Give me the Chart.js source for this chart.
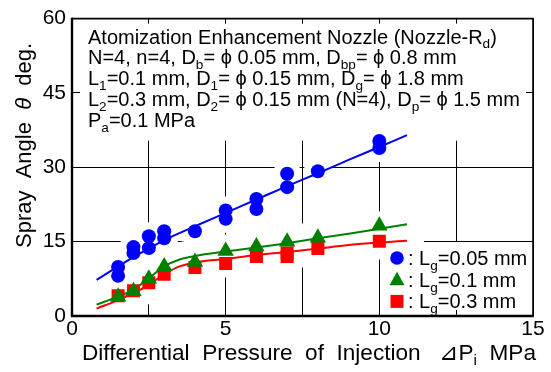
<!DOCTYPE html>
<html>
<head>
<meta charset="utf-8">
<script src="https://cdn.jsdelivr.net/npm/chart.js@4.4.1/dist/chart.umd.min.js"></script>
<style>
  html, body { margin: 0; padding: 0; background: #fff; }
</style>
</head>
<body>
<canvas id="chart" width="551" height="372"></canvas>
<script>
// ---- measured data (pressure in MPa, spray angle in deg.) ----
const pressureBlue = [1.5, 1.5, 2, 2, 2.5, 2.5, 3, 3, 4, 5, 5, 6, 6, 7, 7, 8, 10, 10];
const angleBlue    = [9.9, 8.1, 13.9, 12.7, 16.1, 13.7, 17.1, 15.7, 17.1, 21.3, 19.6, 23.6, 21.6, 28.7, 26.0, 29.2, 35.3, 33.9];
const pressureGreen = [1.5, 2, 2.5, 3, 4, 5, 6, 7, 8, 10];
const angleGreen    = [3.9, 5.0, 7.5, 10.0, 10.9, 13.1, 14.0, 15.0, 15.8, 18.2];
const pressureRed = [1.5, 2, 2.5, 3, 4, 5, 6, 7, 7, 8, 10];
const angleRed    = [4.1, 5.1, 6.7, 8.4, 9.8, 10.6, 12.0, 12.7, 12.0, 13.6, 15.1];

// fitted curves
const fitBlueX = [0.8, 1.5, 2, 2.5, 3, 4, 5, 6, 7, 8, 9, 10, 10.9];
const fitBlueY = [7.3, 10.0, 11.9, 13.6, 15.3, 18.1, 20.8, 23.5, 26.2, 28.8, 31.5, 34.1, 36.5];
const fitGreenX = [0.8, 1.5, 2, 2.5, 3, 3.5, 4, 5, 6, 7, 8, 9, 10, 10.9];
const fitGreenY = [2.3, 3.9, 5.3, 7.6, 10.0, 11.4, 12.1, 13.0, 13.8, 14.7, 15.7, 16.6, 17.6, 18.5];
const fitRedX = [0.8, 1.5, 2, 2.5, 3, 3.5, 4, 5, 6, 7, 8, 9, 10, 10.9];
const fitRedY = [1.5, 3.2, 4.6, 6.3, 8.4, 10.0, 10.8, 11.5, 12.3, 12.9, 13.6, 14.3, 14.8, 15.2];

// tick labels
const xTickLabels = [0, 5, 10, 15];
const yTickLabels = [0, 15, 30, 45, 60];

// text: [string, kind]  kind: n normal, s subscript, i italic
const infoLines = [
    [['Atomization Enhancement Nozzle (Nozzle-R', 'n'], ['d', 's'], [')', 'n']],
    [['N=4, n=4, D', 'n'], ['b', 's'], ['= \u03d5 0.05 mm, D', 'n'], ['bp', 's'], ['= \u03d5 0.8 mm', 'n']],
    [['L', 'n'], ['1', 's'], ['=0.1 mm, D', 'n'], ['1', 's'], ['= \u03d5 0.15 mm, D', 'n'], ['g', 's'], ['= \u03d5 1.8 mm', 'n']],
    [['L', 'n'], ['2', 's'], ['=0.3 mm, D', 'n'], ['2', 's'], ['= \u03d5 0.15 mm (N=4), D', 'n'], ['p', 's'], ['= \u03d5 1.5 mm', 'n']],
    [['P', 'n'], ['a', 's'], ['=0.1 MPa', 'n']]
];
const legendLabels = [
    [[': L', 'n'], ['g', 's'], ['=0.05 mm', 'n']],
    [[': L', 'n'], ['g', 's'], ['=0.1 mm', 'n']],
    [[': L', 'n'], ['g', 's'], ['=0.3 mm', 'n']]
];
const xTitle = [['Differential  Pressure  of  Injection   \u22bfP', 'n'], ['i', 's'], ['  MPa', 'n']];
const yTitle = [['Spray  Angle  ', 'n'], ['\u03b8', 'i'], ['  deg.', 'n']];

const FONT = '"Liberation Sans", Arial, sans-serif';
const BLUE = '#0000ff', GREEN = '#008000', RED = '#ff0000';

function pts(xs, ys) {
    return xs.map((x, i) => ({ x: x, y: ys[i] }));
}

// draws a run of text with subscripts / italics, returns end x
function drawRich(ctx, parts, x, y, size) {
    let cx = x;
    parts.forEach(([t, k]) => {
        const fs = k === 's' ? size * 0.68 : size;
        ctx.font = (k === 'i' ? 'italic ' : '') + fs + 'px ' + FONT;
        ctx.fillText(t, cx, k === 's' ? y + size * 0.24 : y);
        cx += ctx.measureText(t).width;
    });
    return cx;
}

// white areas behind the markers, fit curves and text boxes hide the grid
const maskPlugin = {
    id: 'mask',
    beforeDatasetsDraw(chart) {
        const ctx = chart.ctx, a = chart.chartArea;
        ctx.save();
        ctx.beginPath();
        ctx.rect(a.left + 2, a.top + 1, a.right - a.left - 3, a.bottom - a.top - 4);
        ctx.clip();
        ctx.strokeStyle = '#fff';
        ctx.fillStyle = '#fff';
        ctx.lineWidth = 34;
        ctx.lineCap = 'round';
        ctx.lineJoin = 'round';
        [4, 5].forEach(i => {
            const els = chart.getDatasetMeta(i).data;
            ctx.beginPath();
            els.forEach((p, j) => j ? ctx.lineTo(p.x, p.y) : ctx.moveTo(p.x, p.y));
            ctx.stroke();
        });
        [0, 1, 2].forEach(i => {
            chart.getDatasetMeta(i).data.forEach(p => {
                ctx.beginPath();
                ctx.arc(p.x, p.y, 14, 0, Math.PI * 2);
                ctx.fill();
            });
        });
        // info text panel and legend panel
        ctx.fillRect(a.left + 8, a.top + 5, a.right - a.left - 15, 117);
        ctx.fillRect(a.right - 148, a.bottom - 74, 146, 68);
        ctx.restore();
    },
    afterDraw(chart) {
        const ctx = chart.ctx, a = chart.chartArea;
        ctx.save();
        ctx.fillStyle = '#000';
        ctx.textBaseline = 'alphabetic';
        ctx.textAlign = 'left';

        // frame
        ctx.strokeStyle = '#000';
        ctx.lineWidth = 1.6;
        ctx.beginPath();
        ctx.moveTo(a.left, a.top);
        ctx.lineTo(a.right, a.top);
        ctx.lineTo(a.right, a.bottom);
        ctx.stroke();
        ctx.lineWidth = 2.4;
        ctx.beginPath();
        ctx.moveTo(a.left, a.top - 0.8);
        ctx.lineTo(a.left, a.bottom);
        ctx.lineTo(a.right + 0.8, a.bottom);
        ctx.stroke();

        // info block
        infoLines.forEach((line, i) => {
            drawRich(ctx, line, a.left + 16, a.top + 25 + i * 20.8, 20);
        });

        // legend
        const mx = a.right - 136;
        const colors = [BLUE, GREEN, RED];
        legendLabels.forEach((lab, i) => {
            const by = a.bottom - 51 + i * 21.7;
            const cy = by - 7;
            ctx.fillStyle = colors[i];
            ctx.beginPath();
            if (i === 0) {
                ctx.arc(mx, cy, 6.8, 0, Math.PI * 2);
            } else if (i === 1) {
                ctx.moveTo(mx, cy - 8);
                ctx.lineTo(mx + 7.5, cy + 5.5);
                ctx.lineTo(mx - 7.5, cy + 5.5);
                ctx.closePath();
            } else {
                ctx.rect(mx - 6.5, cy - 6.5, 13, 13);
            }
            ctx.fill();
            ctx.fillStyle = '#000';
            drawRich(ctx, lab, mx + 11, by, 20);
        });

        // axis titles
        drawRich(ctx, xTitle, a.left + 10, 360, 22.6);
        ctx.translate(31, 248);
        ctx.rotate(-Math.PI / 2);
        drawRich(ctx, yTitle, 0, 0, 22);
        ctx.restore();
    }
};

const tickFont = { family: FONT, size: 21 };

new Chart(document.getElementById('chart'), {
    type: 'scatter',
    data: {
        datasets: [
            { label: 'Lg=0.05 mm', data: pts(pressureBlue, angleBlue), pointStyle: 'circle',
              pointRadius: 7, pointBorderWidth: 0, backgroundColor: BLUE, order: 1 },
            { label: 'Lg=0.1 mm', data: pts(pressureGreen, angleGreen), pointStyle: 'triangle',
              pointRadius: 9.5, pointBorderWidth: 0, backgroundColor: GREEN, order: 2 },
            { label: 'Lg=0.3 mm', data: pts(pressureRed, angleRed), pointStyle: 'rect',
              pointRadius: 9.2, pointBorderWidth: 0, backgroundColor: RED, order: 3 },
            { label: 'fit 0.05', data: pts(fitBlueX, fitBlueY), showLine: true, pointRadius: 0,
              borderColor: BLUE, borderWidth: 2, cubicInterpolationMode: 'monotone', order: 4 },
            { label: 'fit 0.1', data: pts(fitGreenX, fitGreenY), showLine: true, pointRadius: 0,
              borderColor: GREEN, borderWidth: 2, cubicInterpolationMode: 'monotone', order: 5 },
            { label: 'fit 0.3', data: pts(fitRedX, fitRedY), showLine: true, pointRadius: 0,
              borderColor: RED, borderWidth: 2, cubicInterpolationMode: 'monotone', order: 6 }
        ]
    },
    options: {
        responsive: false,
        animation: false,
        devicePixelRatio: 1,
        layout: { padding: { left: 0, right: 18, top: 15, bottom: 0 } },
        plugins: { legend: { display: false }, tooltip: { enabled: false } },
        scales: {
            x: {
                type: 'linear', min: 0, max: 15,
                ticks: {
                    stepSize: 2.5, padding: 1, color: '#000', font: tickFont, maxRotation: 0,
                    callback: v => xTickLabels.includes(v) ? String(v) : ''
                },
                grid: { color: '#000', lineWidth: 1, drawTicks: false },
                border: { display: false },
                afterFit: s => { s.height = 56; }
            },
            y: {
                min: 0, max: 60,
                ticks: {
                    stepSize: 15, padding: 6, color: '#000', font: tickFont,
                    callback: v => yTickLabels.includes(v) ? String(v) : ''
                },
                grid: { color: '#000', lineWidth: 1, drawTicks: false },
                border: { display: false },
                afterFit: s => { s.width = 72; }
            }
        }
    },
    plugins: [maskPlugin]
});
</script>
</body>
</html>
